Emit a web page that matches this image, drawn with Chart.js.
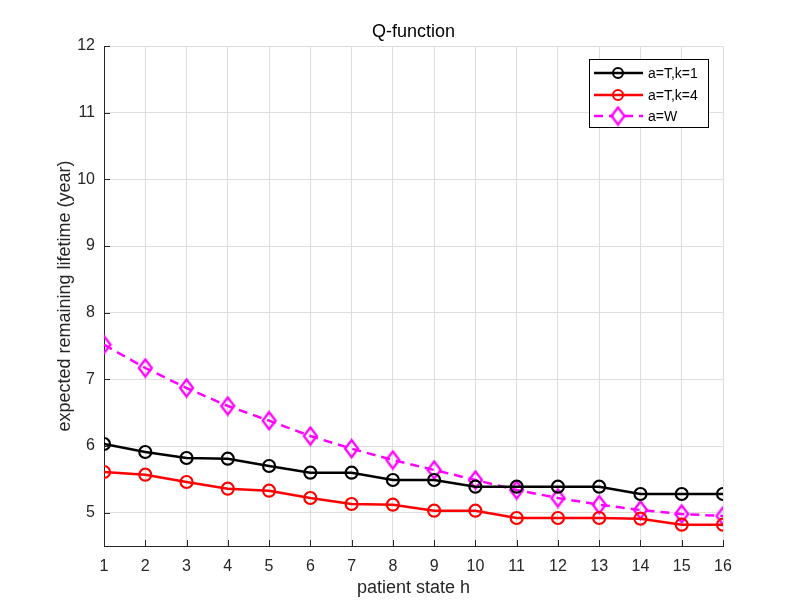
<!DOCTYPE html>
<html>
<head>
<meta charset="utf-8">
<script src="https://cdn.jsdelivr.net/npm/chart.js@4.4.0/dist/chart.umd.min.js"></script>
<style>
  html, body { margin: 0; padding: 0; background: #ffffff; }
  #wrap { width: 798px; height: 614px; }
</style>
</head>
<body>
<div id="wrap"><canvas id="grafico" width="798" height="614"></canvas></div>
<script>
// dados
const estados = [1, 2, 3, 4, 5, 6, 7, 8, 9, 10, 11, 12, 13, 14, 15, 16];
const serieTk1 = [6.03, 5.91, 5.82, 5.81, 5.70, 5.60, 5.60, 5.49, 5.49, 5.39, 5.39, 5.39, 5.39, 5.28, 5.28, 5.28];
const serieTk4 = [5.61, 5.57, 5.46, 5.36, 5.33, 5.22, 5.13, 5.12, 5.03, 5.03, 4.92, 4.92, 4.92, 4.91, 4.82, 4.82];
const serieW = [7.52, 7.17, 6.87, 6.60, 6.38, 6.15, 5.96, 5.79, 5.64, 5.49, 5.34, 5.22, 5.12, 5.04, 4.98, 4.95];
const yTicks = [5, 6, 7, 8, 9, 10, 11, 12];
const nomes = ['a=T,k=1', 'a=T,k=4', 'a=W'];

const FONTE = 'Liberation Sans, Arial, Helvetica, sans-serif';
const COR_EIXO = '#262626';

function pontos(vals) {
    return estados.map((x, i) => ({ x: x, y: vals[i] }));
}

// losango estilo MATLAB (mais alto que largo)
function criarLosango(cor) {
    const c = document.createElement('canvas');
    c.width = 17; c.height = 21;
    const g = c.getContext('2d');
    g.strokeStyle = cor;
    g.fillStyle = 'rgba(255,255,255,0)';
    g.lineWidth = 2.3;
    g.beginPath();
    g.moveTo(8.5, 2);
    g.lineTo(15, 10.5);
    g.lineTo(8.5, 19);
    g.lineTo(2, 10.5);
    g.closePath();
    g.stroke();
    return c;
}
const losango = criarLosango('#ff00ff');

// marcas dos eixos para dentro + título + legenda
const extras = {
    id: 'extras',
    afterDraw(chart) {
        const ctx = chart.ctx;
        const a = chart.chartArea;
        const xs = chart.scales.x, ys = chart.scales.y;
        ctx.save();
        ctx.strokeStyle = COR_EIXO;
        ctx.lineWidth = 1;
        ctx.beginPath();
        estados.forEach(v => {
            const px = Math.round(xs.getPixelForValue(v)) + 0.5;
            ctx.moveTo(px, a.bottom);
            ctx.lineTo(px, a.bottom - 6);
        });
        yTicks.forEach(v => {
            const py = Math.round(ys.getPixelForValue(v)) + 0.5;
            ctx.moveTo(a.left, py);
            ctx.lineTo(a.left + 6, py);
        });
        ctx.stroke();

        // título
        ctx.fillStyle = '#000';
        ctx.font = '18px ' + FONTE;
        ctx.textAlign = 'center';
        ctx.textBaseline = 'middle';
        ctx.fillText('Q-function', (a.left + a.right) / 2, 32);

        // legenda
        const lx = 589, ly = 59, lw = 119, lh = 68;
        ctx.fillStyle = '#fff';
        ctx.fillRect(lx, ly, lw, lh);
        ctx.strokeStyle = '#000';
        ctx.strokeRect(lx + 0.5, ly + 0.5, lw, lh);
        const ds = chart.data.datasets;
        const ys2 = [73, 95, 116];
        ds.forEach((d, i) => {
            const y = ys2[i];
            ctx.save();
            ctx.strokeStyle = d.borderColor;
            ctx.lineWidth = 2.5;
            ctx.setLineDash(d.borderDash || []);
            ctx.beginPath();
            ctx.moveTo(594, y);
            ctx.lineTo(643, y);
            ctx.stroke();
            ctx.setLineDash([]);
            ctx.lineWidth = 2;
            if (d.pointStyle === losango) {
                ctx.fillStyle = '#fff';
                ctx.beginPath();
                ctx.moveTo(618, y - 6);
                ctx.lineTo(623, y);
                ctx.lineTo(618, y + 6);
                ctx.lineTo(613, y);
                ctx.closePath();
                ctx.fill();
                ctx.drawImage(losango, 618 - 8.5, y - 10.5);
            } else {
                ctx.beginPath();
                ctx.arc(618, y, 5, 0, Math.PI * 2);
                ctx.stroke();
            }
            ctx.restore();
            ctx.fillStyle = '#000';
            ctx.font = '14px ' + FONTE;
            ctx.textAlign = 'left';
            ctx.fillText(nomes[i], 648, y + 1);
        });
        ctx.restore();
    }
};

new Chart(document.getElementById('grafico'), {
    type: 'line',
    data: {
        datasets: [
            {
                label: nomes[0],
                data: pontos(serieTk1),
                borderColor: '#000000',
                backgroundColor: 'rgba(0,0,0,0)',
                borderWidth: 2.5,
                pointStyle: 'circle',
                pointRadius: 6,
                pointBorderWidth: 2.2,
                tension: 0
            },
            {
                label: nomes[1],
                data: pontos(serieTk4),
                borderColor: '#ff0000',
                backgroundColor: 'rgba(0,0,0,0)',
                borderWidth: 2.5,
                pointStyle: 'circle',
                pointRadius: 6,
                pointBorderWidth: 2.2,
                tension: 0
            },
            {
                label: nomes[2],
                data: pontos(serieW),
                borderColor: '#ff00ff',
                backgroundColor: 'rgba(0,0,0,0)',
                borderWidth: 2.5,
                borderDash: [9, 6],
                pointStyle: losango,
                pointRadius: 8,
                tension: 0
            }
        ]
    },
    options: {
        responsive: false,
        animation: false,
        layout: { padding: { left: 0, top: 46, right: 75, bottom: 0 } },
        plugins: {
            legend: { display: false },
            title: { display: false },
            tooltip: { enabled: false }
        },
        scales: {
            x: {
                type: 'linear',
                min: 1,
                max: 16,
                afterBuildTicks: s => { s.ticks = estados.map(v => ({ value: v })); },
                afterFit: s => { s.height = 68; },
                grid: { color: '#dedede', drawTicks: false },
                border: { color: COR_EIXO, width: 1 },
                ticks: { color: COR_EIXO, font: { family: FONTE, size: 16 }, padding: 11, maxRotation: 0 },
                title: {
                    display: true,
                    text: 'patient state h',
                    color: COR_EIXO,
                    font: { family: FONTE, size: 18 },
                    padding: { bottom: 15 }
                }
            },
            y: {
                min: 4.5,
                max: 12,
                afterBuildTicks: s => { s.ticks = yTicks.map(v => ({ value: v })); },
                afterFit: s => { s.width = 104; },
                grid: { color: '#dedede', drawTicks: false },
                border: { color: COR_EIXO, width: 1 },
                ticks: { color: COR_EIXO, font: { family: FONTE, size: 16 }, padding: 9 },
                title: {
                    display: true,
                    text: 'expected remaining lifetime (year)',
                    color: COR_EIXO,
                    font: { family: FONTE, size: 18 },
                    padding: { top: 54 }
                }
            }
        }
    },
    plugins: [extras]
});
</script>
</body>
</html>
